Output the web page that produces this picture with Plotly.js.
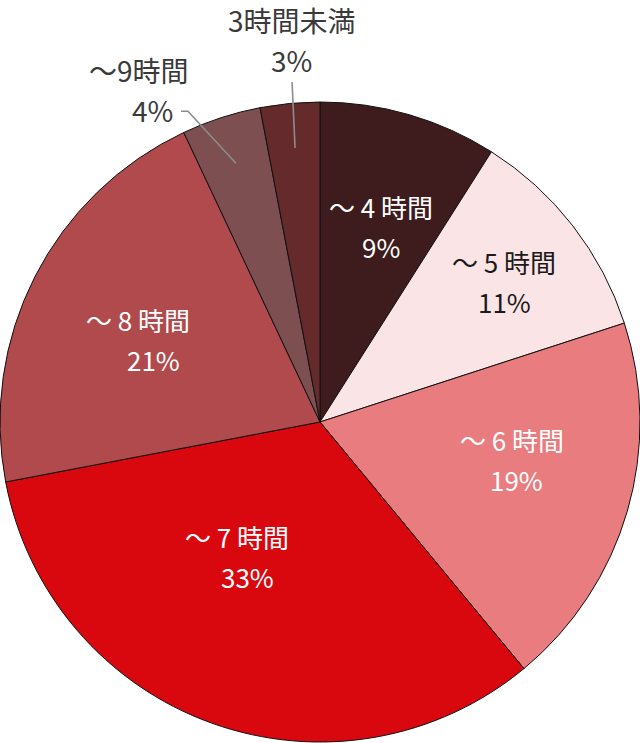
<!DOCTYPE html>
<html>
<head>
<meta charset="utf-8">
<script src="https://cdn.plot.ly/plotly-3.0.1.min.js"></script>
<style>
  html, body { margin: 0; padding: 0; background: #ffffff; }
  #chart { width: 640px; height: 743px; }
</style>
</head>
<body>
<div id="chart"></div>
<script>
// Sleep time shares, clockwise from 12 o'clock
const categories = ['～ 4 時間', '～ 5 時間', '～ 6 時間', '～ 7 時間', '～ 8 時間', '～9時間', '3時間未満'];
const shares = [9, 11, 19, 33, 21, 4, 3];
const percentLabels = ['9%', '11%', '19%', '33%', '21%', '4%', '3%'];

const sliceColors = ['#3e1c1d', '#fae4e6', '#e97c7e', '#d9080f', '#b04a4c', '#7e4f50', '#642a2c'];
const textColors = ['#ffffff', '#1a1a1a', '#ffffff', '#ffffff', '#ffffff', '#3a3a3a', '#3a3a3a'];

// label placement: radius fraction, angle nudge (deg), percent line x nudge (px)
const labelStyle = [
  { r: 0.635, dA: 1.3, pctDx: 0 },
  { r: 0.72, dA: 0.9, pctDx: 0 },
  { r: 0.62, dA: -4.6, pctDx: 4 },
  { r: 0.49, dA: 9.9, pctDx: 10 },
  { r: 0.60, dA: -2.2, pctDx: 16 },
  // outside labels: r = leader tip, (ax, ay) = percent text offset,
  // (lx, ly) = leader tail offset, hook = short horizontal end of the leader
  { r: 0.85, dA: 0, outside: true, ax: -83, ay: -51, lx: -48, ly: -52, hook: -7, nameDx: -14 },
  { r: 0.86, dA: 0.2, outside: true, ax: -4, ay: -86, lx: -3, ly: -66, hook: 0, nameDx: 1 }
];

const W = 640, H = 743;
const CX = 320, CY = 422, R = 320;
const FONT = '"Noto Sans CJK JP", "Noto Sans", sans-serif';
const LEADER = '#8c8c8c';

const toX = px => px / W;
const toY = py => 1 - py / H;

const total = shares.reduce((a, b) => a + b, 0);
const annotations = [];
const shapes = [];
let cum = 0;
shares.forEach((v, i) => {
  const mid = (cum + v / 2) / total * 360;
  cum += v;
  const st = labelStyle[i];
  const a = (mid + st.dA) * Math.PI / 180;
  const px = CX + st.r * R * Math.sin(a);
  const py = CY - st.r * R * Math.cos(a);
  const base = { x: toX(px), y: toY(py), xref: 'paper', yref: 'paper', xanchor: 'center', yanchor: 'middle' };

  if (st.outside) {
    // leader line from the slice out toward the label
    const tx = px + st.lx, ty = py + st.ly;
    shapes.push({
      type: 'path', xref: 'paper', yref: 'paper',
      path: `M ${toX(px)} ${toY(py)} L ${toX(tx)} ${toY(ty)} L ${toX(tx + st.hook)} ${toY(ty)}`,
      line: { color: LEADER, width: 1.6 }
    });
    annotations.push(Object.assign({}, base, {
      text: percentLabels[i], showarrow: false,
      xshift: st.ax, yshift: -st.ay + 2,
      font: { family: FONT, size: 28, color: textColors[i] }
    }));
    annotations.push(Object.assign({}, base, {
      text: categories[i], showarrow: false,
      xshift: st.ax + st.nameDx, yshift: -st.ay + 42,
      font: { family: FONT, size: 28, color: textColors[i] }
    }));
  } else {
    annotations.push(Object.assign({}, base, {
      text: categories[i], showarrow: false,
      xshift: -st.pctDx / 2, yshift: 22,
      font: { family: FONT, size: 26, color: textColors[i] }
    }));
    annotations.push(Object.assign({}, base, {
      text: percentLabels[i], showarrow: false,
      xshift: st.pctDx / 2, yshift: -18,
      font: { family: FONT, size: 26, color: textColors[i] }
    }));
  }
});

const traces = [{
  type: 'pie',
  labels: categories,
  values: shares,
  sort: false,
  direction: 'clockwise',
  rotation: 0,
  textinfo: 'none',
  hoverinfo: 'skip',
  marker: {
    colors: sliceColors,
    line: { color: '#111111', width: 1 }
  },
  domain: { x: [0, 1], y: [(H - CY - R) / H, (H - CY + R) / H] }
}];

const layout = {
  width: W,
  height: H,
  margin: { l: 0, r: 0, t: 0, b: 0 },
  showlegend: false,
  paper_bgcolor: '#ffffff',
  font: { family: FONT },
  annotations: annotations,
  shapes: shapes
};

Plotly.newPlot('chart', traces, layout, { displayModeBar: false, staticPlot: true });
</script>
</body>
</html>
